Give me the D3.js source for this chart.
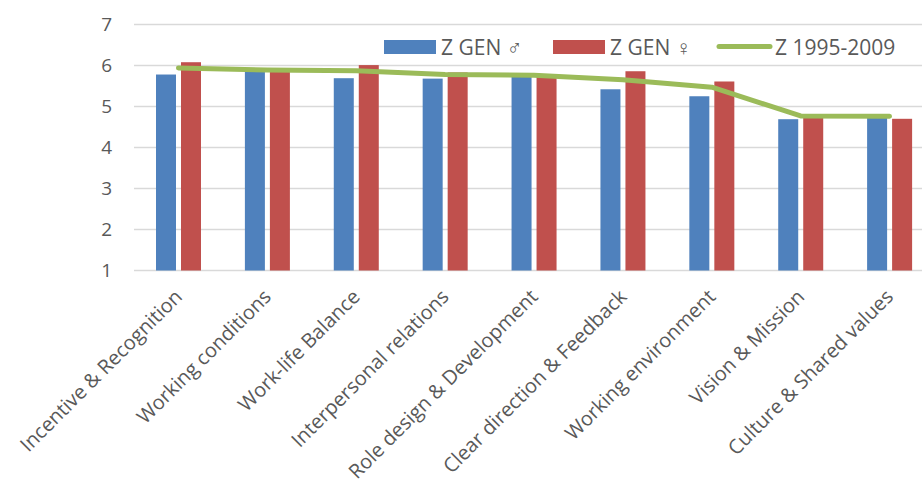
<!DOCTYPE html>
<html>
<head>
<meta charset="utf-8">
<script src="https://cdn.jsdelivr.net/npm/d3@7"></script>
<style>
  html, body { margin: 0; padding: 0; background: #fff; }
  svg text { font-family: "Open Sans", "Noto Sans", sans-serif; fill: #595959; }
</style>
</head>
<body>
<div id="chart"></div>
<script>
const categories = [
  "Incentive & Recognition", "Working conditions", "Work-life Balance",
  "Interpersonal relations", "Role design & Development", "Clear direction & Feedback",
  "Working environment", "Vision & Mission", "Culture & Shared values"
];
const zGenMale = [5.78, 5.88, 5.69, 5.68, 5.77, 5.42, 5.25, 4.69, 4.72];
const zGenFemale = [6.08, 5.88, 6.01, 5.83, 5.76, 5.86, 5.61, 4.74, 4.70];
const z19952009 = [5.94, 5.89, 5.87, 5.78, 5.76, 5.65, 5.47, 4.77, 4.76];
const yTicks = [1, 2, 3, 4, 5, 6, 7];
const seriesNames = ["Z GEN ♂", "Z GEN ♀", "Z 1995-2009"];

const colors = { male: "#4F81BD", female: "#C0504D", line: "#9BBB59" };

const W = 922, H = 491;
const svg = d3.select("#chart").append("svg")
  .attr("width", W).attr("height", H);

const x = d3.scaleBand().domain(categories).range([134, 934]).padding(0);
const xInner = d3.scaleBand().domain(["male", "female"])
  .range([22, 67]).paddingInner(0.2).paddingOuter(0);
const y = d3.scaleLinear().domain([1, 7]).range([270.5, 24.5]);

// gridlines
svg.append("g")
  .selectAll("line")
  .data(yTicks)
  .enter().append("line")
  .attr("x1", 134).attr("x2", 934)
  .attr("y1", d => y(d)).attr("y2", d => y(d))
  .attr("stroke", "#D9D9D9").attr("stroke-width", 1.5);

// y axis labels
svg.append("g")
  .selectAll("text")
  .data(yTicks)
  .enter().append("text")
  .attr("x", 112).attr("y", d => y(d))
  .attr("dy", "0.36em")
  .attr("text-anchor", "end")
  .style("font-size", "19px")
  .text(d => d);

// bars
const rows = categories.map((c, i) => ({ cat: c, male: zGenMale[i], female: zGenFemale[i], line: z19952009[i] }));

const groups = svg.append("g").selectAll("g")
  .data(rows)
  .enter().append("g")
  .attr("transform", d => `translate(${x(d.cat)},0)`);

groups.selectAll("rect")
  .data(d => ["male", "female"].map(k => ({ key: k, value: d[k] })))
  .enter().append("rect")
  .attr("x", d => xInner(d.key))
  .attr("width", xInner.bandwidth())
  .attr("y", d => y(d.value))
  .attr("height", d => y(1) - y(d.value))
  .attr("fill", d => colors[d.key]);

// line
const line = d3.line()
  .x(d => x(d.cat) + x.bandwidth() / 2)
  .y(d => y(d.line));

svg.append("path")
  .datum(rows)
  .attr("fill", "none")
  .attr("stroke", colors.line)
  .attr("stroke-width", 5)
  .attr("stroke-linecap", "round")
  .attr("stroke-linejoin", "round")
  .attr("d", line);

// x labels
svg.append("g")
  .selectAll("text")
  .data(categories)
  .enter().append("text")
  .attr("transform", d => `translate(${x(d) + x.bandwidth() / 2 + 5},298) rotate(-45)`)
  .attr("text-anchor", "end")
  .style("font-size", "20px")
  .text(d => d);

// legend
const legend = svg.append("g");
legend.append("rect").attr("x", 384).attr("y", 40).attr("width", 52).attr("height", 14).attr("fill", colors.male);
legend.append("text").attr("x", 441).attr("y", 55).style("font-size", "21px").text(seriesNames[0]);
legend.append("rect").attr("x", 553).attr("y", 40).attr("width", 52).attr("height", 14).attr("fill", colors.female);
legend.append("text").attr("x", 610).attr("y", 55).style("font-size", "21px").text(seriesNames[1]);
legend.append("line").attr("x1", 719).attr("x2", 770).attr("y1", 46.5).attr("y2", 46.5)
  .attr("stroke", colors.line).attr("stroke-width", 5).attr("stroke-linecap", "round");
legend.append("text").attr("x", 775).attr("y", 55).style("font-size", "21px").text(seriesNames[2]);
</script>
</body>
</html>
